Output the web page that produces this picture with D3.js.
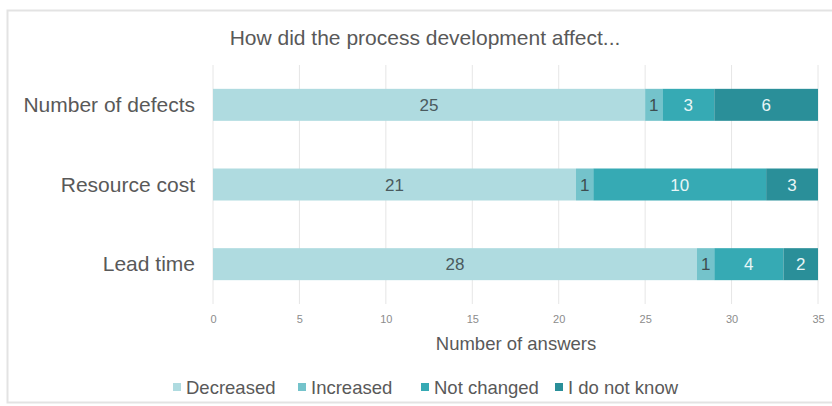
<!DOCTYPE html>
<html><head><meta charset="utf-8">
<script src="https://cdn.jsdelivr.net/npm/d3@7/dist/d3.min.js"></script>
<style>body{margin:0;background:#fff;} text{font-family:"Liberation Sans",Arial,sans-serif;}</style>
</head><body><svg id="c" width="832" height="406"></svg>
<script>
const categories = ["Number of defects", "Resource cost", "Lead time"];
const seriesNames = ["Decreased", "Increased", "Not changed", "I do not know"];
const decreased = [25, 21, 28];
const increased = [1, 1, 1];
const notChanged = [3, 10, 4];
const doNotKnow = [6, 3, 2];
const xTicks = [0, 5, 10, 15, 20, 25, 30, 35];
const colors = ["#afdbe0", "#74c3cb", "#36aab4", "#2a8f99"];
const labelColors = ["#4a5a5e", "#3d4d50", "#e8f6f7", "#e8f6f7"];

const svg = d3.select("#c");
svg.append("rect").attr("x", 7.5).attr("y", 10.5).attr("width", 840).attr("height", 392)
  .attr("fill", "#fff").attr("stroke", "#e3e3e3").attr("stroke-width", 2);

const x = d3.scaleLinear().domain([0, 35]).range([213, 818]);
const y = d3.scaleBand().domain(categories).range([65, 304]).paddingInner(0.6).paddingOuter(0.3);

// gridlines
svg.append("g").selectAll("line").data(xTicks).join("line")
  .attr("x1", d => x(d)).attr("x2", d => x(d)).attr("y1", 65).attr("y2", 304)
  .attr("stroke", "#e6e6e6").attr("stroke-width", 1);

svg.append("text").attr("x", 425).attr("y", 45).attr("text-anchor", "middle")
  .attr("font-size", 21).attr("fill", "#595959").text("How did the process development affect...");

const series = [decreased, increased, notChanged, doNotKnow];
const rows = categories.map((c, i) => {
  const o = {cat: c};
  seriesNames.forEach((s, j) => o[s] = series[j][i]);
  return o;
});
const stacked = d3.stack().keys(seriesNames)(rows);

const bh = 32;
stacked.forEach((layer, j) => {
  const g = svg.append("g");
  g.selectAll("rect").data(layer).join("rect")
    .attr("x", d => x(d[0])).attr("width", d => x(d[1]) - x(d[0]))
    .attr("y", d => y(d.data.cat) + y.bandwidth() / 2 - bh / 2).attr("height", bh)
    .attr("fill", colors[j]);
  g.selectAll("text").data(layer).join("text")
    .attr("x", d => (x(d[0]) + x(d[1])) / 2)
    .attr("y", d => y(d.data.cat) + y.bandwidth() / 2 + 6)
    .attr("text-anchor", "middle").attr("font-size", 17)
    .attr("fill", labelColors[j]).text(d => d[1] - d[0]);
});

// category labels
svg.append("g").selectAll("text").data(categories).join("text")
  .attr("x", 195).attr("y", d => y(d) + y.bandwidth() / 2 + 7)
  .attr("text-anchor", "end").attr("font-size", 21).attr("fill", "#595959").text(d => d);

// x axis
const xa = svg.append("g").attr("transform", "translate(0,304)")
  .call(d3.axisBottom(x).tickValues(xTicks).tickSize(0).tickPadding(11));
xa.select(".domain").remove();
xa.selectAll("text").attr("font-size", 11).attr("fill", "#8c8c8c")
  .attr("font-family", "'Liberation Sans', Arial, sans-serif");

svg.append("text").attr("x", 516).attr("y", 350).attr("text-anchor", "middle")
  .attr("font-size", 18.5).attr("fill", "#595959").text("Number of answers");

// legend
const legendX = [173, 298, 421, 555];
const lg = svg.append("g");
seriesNames.forEach((s, j) => {
  lg.append("rect").attr("x", legendX[j]).attr("y", 383).attr("width", 8).attr("height", 8).attr("fill", colors[j]);
  lg.append("text").attr("x", legendX[j] + 13).attr("y", 394).attr("font-size", 18.5)
    .attr("fill", "#595959").text(s);
});
</script></body></html>
